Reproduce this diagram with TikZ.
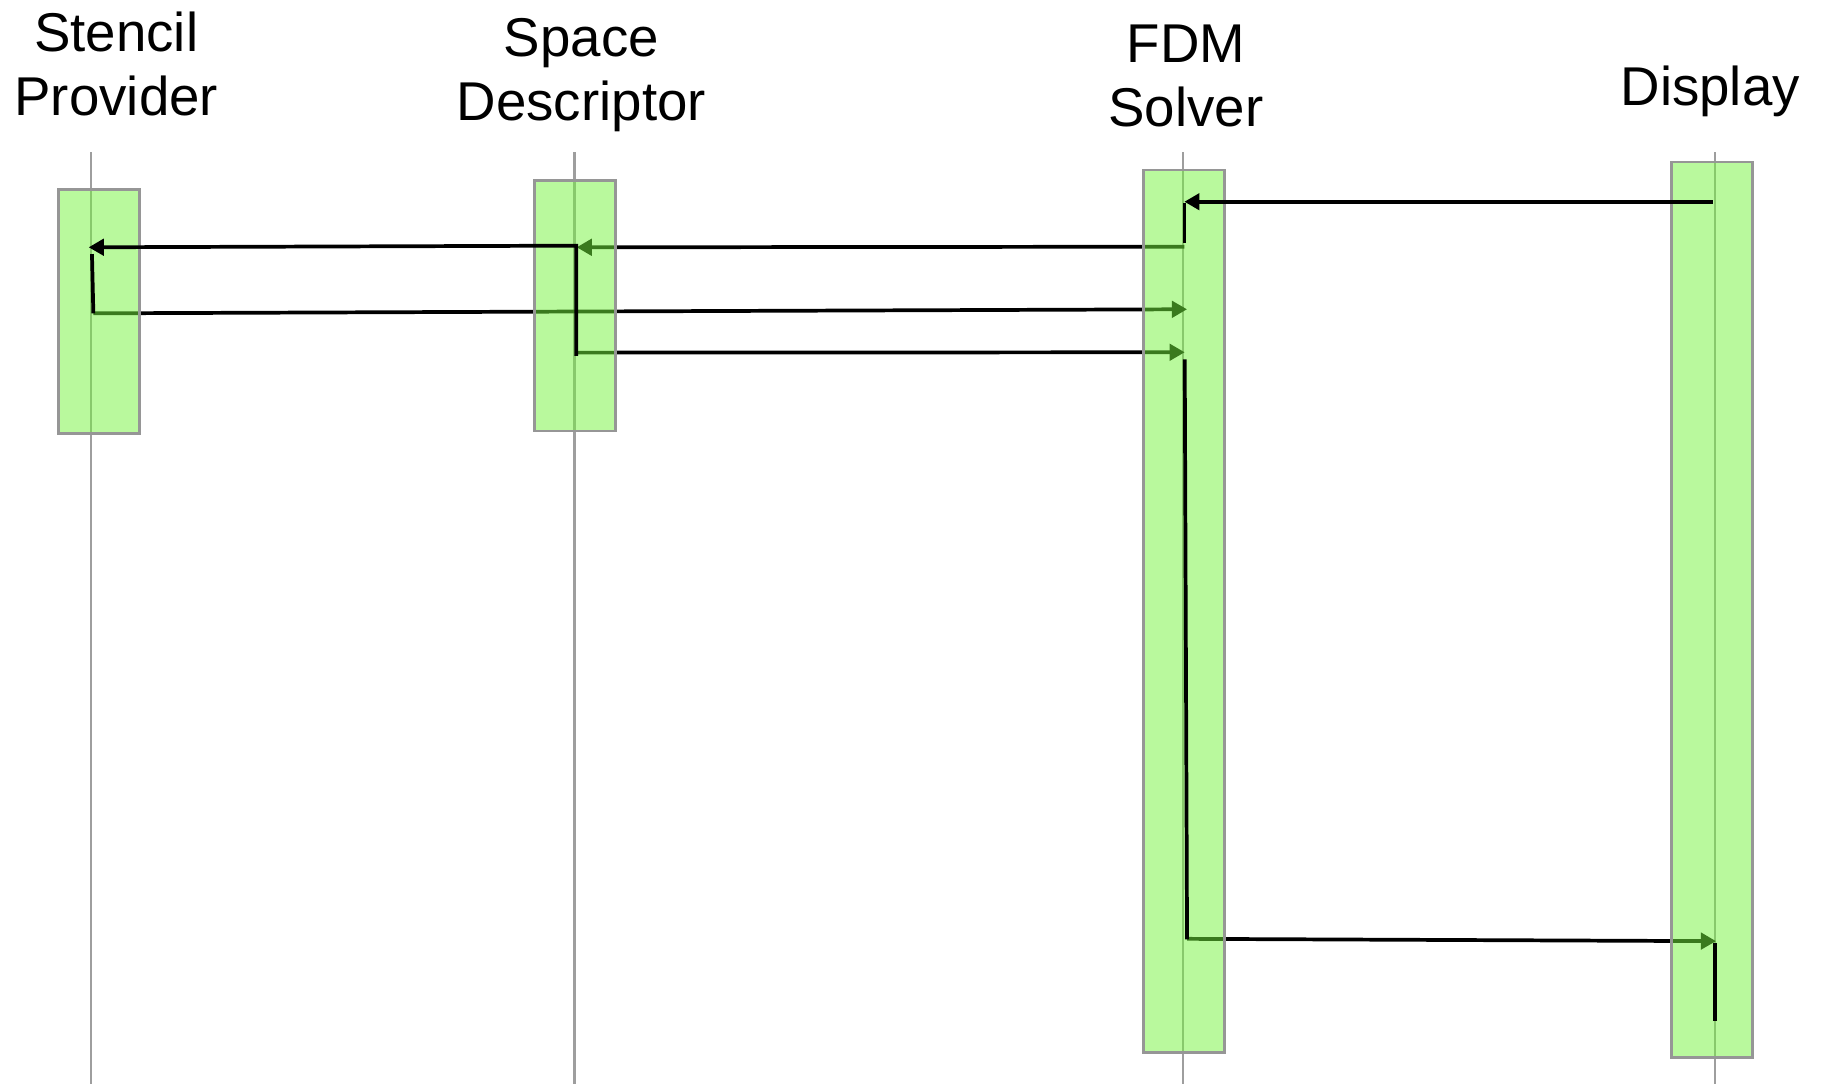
\documentclass[tikz,border=0pt]{standalone}
\usepackage{fontspec}
\setmainfont{Liberation Sans}
\usetikzlibrary{arrows.meta}

\definecolor{lineGray}{RGB}{158,158,158}
\definecolor{boxGray}{RGB}{150,150,150}
\definecolor{actGreen}{RGB}{116,244,60}

\begin{document}
\begin{tikzpicture}[
        x=1pt, y=-1pt,
        actor/.style={align=center, inner sep=0pt, font=\fontsize{47}{55}\selectfont},
        lifeline/.style={draw=lineGray, line width=2pt},
        activation/.style={rectangle, draw=boxGray, line width=2.4pt, fill=actGreen, fill opacity=0.5, inner sep=0pt, minimum width=70pt},
        call/.style={-{Triangle[length=13pt, width=14pt]}, line width=3.2pt},
        flow/.style={line width=3.2pt}
    ]
        \useasboundingbox (0,0) rectangle (1568,932);

        \node[actor, anchor=base] (stencil) at (100,99) {Stencil\\Provider};
        \node[actor, anchor=base] (space) at (500,104) {Space\\Descriptor};
        \node[actor, anchor=base] (solver) at (1020,109) {FDM\\Solver};
        \node[actor, anchor=base] (display) at (1471,91) {Display};

        % lifelines
        \coordinate (stencilTop) at (78.5,131);   \coordinate (stencilEnd) at (78.5,932);
        \coordinate (spaceTop) at (494,131);      \coordinate (spaceEnd) at (494,932);
        \coordinate (solverTop) at (1017.5,131);  \coordinate (solverEnd) at (1017.5,932);
        \coordinate (displayTop) at (1475,131);   \coordinate (displayEnd) at (1475,932);
        \draw[lifeline] (stencilTop) -- (stencilEnd);
        \draw[lifeline] (spaceTop) -- (spaceEnd);
        \draw[lifeline] (solverTop) -- (solverEnd);
        \draw[lifeline] (displayTop) -- (displayEnd);

        % message points
        \coordinate (askDisplay) at (1473,173.5);
        \coordinate (askSolver) at (1018.7,173.5);
        \coordinate (solverWake) at (1018.7,175);
        \coordinate (solverWait) at (1018.7,208.7);
        \coordinate (gridSolver) at (1018.7,212.2);
        \coordinate (gridSpace) at (496,212.7);
        \coordinate (stencilSpace) at (495.7,211.3);
        \coordinate (stencilTip) at (76.3,212.7);
        \coordinate (stencilWake) at (79.1,218.5);
        \coordinate (stencilDone) at (80.3,269.5);
        \coordinate (stencilBack) at (1021,266);
        \coordinate (spaceDone) at (495.7,306);
        \coordinate (spaceSend) at (495.7,303.3);
        \coordinate (spaceBack) at (1019,303);
        \coordinate (solveStart) at (1019,309);
        \coordinate (solveDone) at (1021,808);
        \coordinate (showSend) at (1021,807.5);
        \coordinate (showTip) at (1476,809.5);
        \coordinate (showStart) at (1475,811);
        \coordinate (showDone) at (1475,878);

        % replies beneath the bars
        \draw[call] (gridSolver) -- (gridSpace);
        \draw[call] (stencilDone) -- (stencilBack);
        \draw[call] (spaceSend) -- (spaceBack);
        \draw[call] (showSend) -- (showTip);

        % activation bars
        \node[activation, minimum height=209.7pt] (stencilBox) at (85,267.8) {};
        \node[activation, minimum height=215.3pt] (spaceBox) at (494.7,263) {};
        \node[activation, minimum height=759.2pt] (solverBox) at (1018.3,525.8) {};
        \node[activation, minimum height=770pt] (displayBox) at (1472.4,524.4) {};

        \draw[call] (askDisplay) -- (askSolver);
        \draw[flow] (solverWake) -- (solverWait);
        \draw[call] (spaceDone) -- (stencilSpace) -- (stencilTip);
        \draw[flow] (stencilWake) -- (stencilDone);
        \draw[flow] (solveStart) -- (solveDone);
        \draw[flow] (showStart) -- (showDone);
    \end{tikzpicture}
\end{document}
